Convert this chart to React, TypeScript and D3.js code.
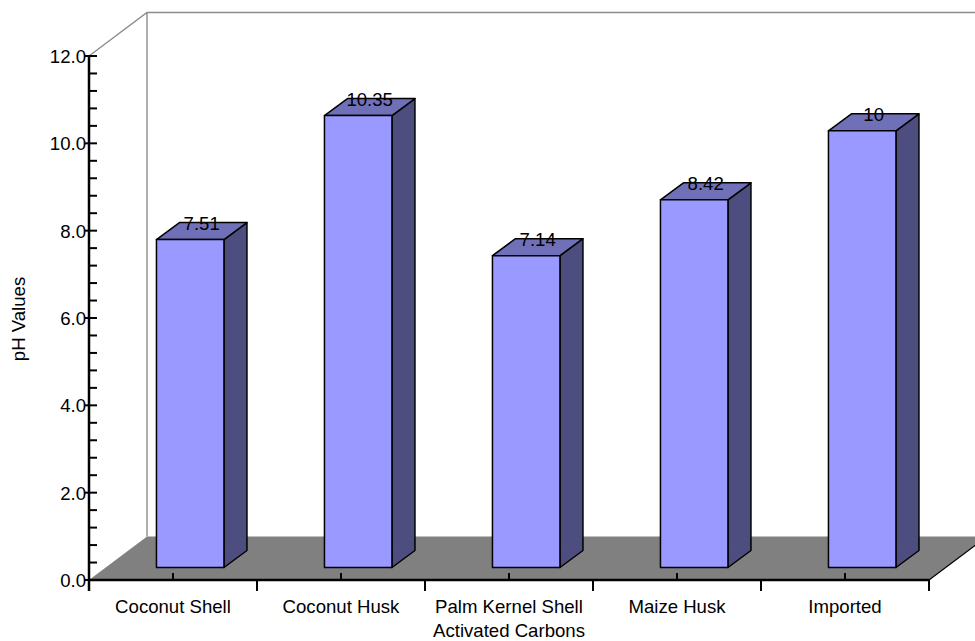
import * as d3 from "d3";
import { useEffect, useRef } from "react";

const categories = ["Coconut Shell", "Coconut Husk", "Palm Kernel Shell", "Maize Husk", "Imported"];
const phValues = [7.51, 10.35, 7.14, 8.42, 10];
const majorTicks = [0, 2, 4, 6, 8, 10, 12];
const minorTicks = [0.4, 0.8, 1.2, 1.6, 2.4, 2.8, 3.2, 3.6, 4.4, 4.8, 5.2, 5.6, 6.4, 6.8, 7.2, 7.6, 8.4, 8.8, 9.2, 9.6, 10.4, 10.8, 11.2, 11.6];

const W = 975;
const H = 641;
const FONT = "Liberation Sans, Arial, sans-serif";
const FS = 18.6;

export default function App() {
  const ref = useRef<SVGSVGElement | null>(null);

  useEffect(() => {
    const el = ref.current;
    if (!el) return;
    const svg = d3.select(el);
    svg.selectAll("*").remove();

    const x0 = 89;
    const x1 = 929;
    const yBase = 580;
    const yTop = 56;
    // oblique offset of the back wall, and of the bars inside it
    const depth = { dx: 58, dy: -43.5 };
    const barInset = { dx: 17.2, dy: -12.5 };
    const barDepth = { dx: 23, dy: -17 };
    const barW = 67.5;

    const x = d3.scaleBand<string>().domain(categories).range([x0, x1]);
    const y = d3.scaleLinear().domain([0, 12]).range([yBase, yTop]);

    const grey = "#8c8c8c";

    // back wall
    svg.append("path")
      .attr("d", `M${x0},${yTop}L${x0 + depth.dx},${yTop + depth.dy}L${W},${yTop + depth.dy}`)
      .attr("fill", "none")
      .attr("stroke", grey)
      .attr("stroke-width", 1.4);
    svg.append("line")
      .attr("x1", x0 + depth.dx)
      .attr("x2", x0 + depth.dx)
      .attr("y1", yTop + depth.dy)
      .attr("y2", yBase + depth.dy)
      .attr("stroke", grey)
      .attr("stroke-width", 1.4);

    // floor
    svg.append("path")
      .attr("d", `M${x0},${yBase}L${x0 + depth.dx},${yBase + depth.dy}L${x1 + depth.dx},${yBase + depth.dy}L${x1},${yBase}Z`)
      .attr("fill", "#808080");
    svg.append("line")
      .attr("x1", x1)
      .attr("x2", x1 + depth.dx)
      .attr("y1", yBase)
      .attr("y2", yBase + depth.dy)
      .attr("stroke", "#000")
      .attr("stroke-width", 1.2);

    // bars
    const bars = svg.append("g")
      .selectAll("g")
      .data(categories)
      .join("g")
      .attr("stroke", "#000")
      .attr("stroke-width", 1.5)
      .attr("stroke-linejoin", "round");

    const geom = (i: number) => {
      const cx = (x(categories[i]) as number) + x.bandwidth() / 2 + barInset.dx;
      const left = cx - barW / 2;
      const right = cx + barW / 2;
      const bottom = yBase + barInset.dy;
      const top = bottom - (yBase - y(phValues[i]));
      return { left, right, bottom, top };
    };

    bars.append("path")
      .attr("fill", "#4d4d80")
      .attr("d", (_, i) => {
        const g = geom(i);
        return `M${g.right},${g.top}L${g.right + barDepth.dx},${g.top + barDepth.dy}L${g.right + barDepth.dx},${g.bottom + barDepth.dy}L${g.right},${g.bottom}Z`;
      });
    bars.append("path")
      .attr("fill", "#7070b8")
      .attr("d", (_, i) => {
        const g = geom(i);
        return `M${g.left},${g.top}L${g.left + barDepth.dx},${g.top + barDepth.dy}L${g.right + barDepth.dx},${g.top + barDepth.dy}L${g.right},${g.top}Z`;
      });
    bars.append("rect")
      .attr("fill", "#9999ff")
      .attr("x", (_, i) => geom(i).left)
      .attr("y", (_, i) => geom(i).top)
      .attr("width", barW)
      .attr("height", (_, i) => geom(i).bottom - geom(i).top);

    // value labels
    svg.append("g")
      .selectAll("text")
      .data(phValues)
      .join("text")
      .attr("x", (_, i) => geom(i).left + barW / 2 + barDepth.dx / 2)
      .attr("y", (_, i) => geom(i).top - 10)
      .attr("text-anchor", "middle")
      .attr("font-family", FONT)
      .attr("font-size", FS)
      .attr("fill", "#000")
      .text((d) => String(d));

    // y axis
    const gy = svg.append("g");
    gy.append("line")
      .attr("x1", x0)
      .attr("x2", x0)
      .attr("y1", yTop - 1)
      .attr("y2", yBase + 11)
      .attr("stroke", "#000")
      .attr("stroke-width", 2.5);
    gy.selectAll("line.minor")
      .data(minorTicks)
      .join("line")
      .attr("class", "minor")
      .attr("x1", x0)
      .attr("x2", x0 + 8)
      .attr("y1", (d) => y(d))
      .attr("y2", (d) => y(d))
      .attr("stroke", "#000")
      .attr("stroke-width", 2);
    gy.selectAll("line.major")
      .data(majorTicks)
      .join("line")
      .attr("class", "major")
      .attr("x1", x0 - 4)
      .attr("x2", x0 + 8)
      .attr("y1", (d) => y(d))
      .attr("y2", (d) => y(d))
      .attr("stroke", "#000")
      .attr("stroke-width", 2);
    gy.selectAll("text")
      .data(majorTicks)
      .join("text")
      .attr("x", x0 - 3)
      .attr("y", (d) => y(d) + 7)
      .attr("text-anchor", "end")
      .attr("font-family", FONT)
      .attr("font-size", FS)
      .attr("fill", "#000")
      .text((d) => d3.format(".1f")(d));

    // x axis
    const gx = svg.append("g");
    gx.append("line")
      .attr("x1", x0)
      .attr("x2", x1)
      .attr("y1", yBase)
      .attr("y2", yBase)
      .attr("stroke", "#000")
      .attr("stroke-width", 2.5);
    const edges = [...categories.map((c) => x(c) as number), x1];
    gx.selectAll("line.edge")
      .data(edges)
      .join("line")
      .attr("class", "edge")
      .attr("x1", (d) => d)
      .attr("x2", (d) => d)
      .attr("y1", yBase)
      .attr("y2", yBase + 11)
      .attr("stroke", "#000")
      .attr("stroke-width", 2);
    gx.selectAll("line.mid")
      .data(categories)
      .join("line")
      .attr("class", "mid")
      .attr("x1", (d) => (x(d) as number) + x.bandwidth() / 2)
      .attr("x2", (d) => (x(d) as number) + x.bandwidth() / 2)
      .attr("y1", yBase - 7)
      .attr("y2", yBase)
      .attr("stroke", "#000")
      .attr("stroke-width", 2);
    gx.selectAll("text")
      .data(categories)
      .join("text")
      .attr("x", (d) => (x(d) as number) + x.bandwidth() / 2)
      .attr("y", 613)
      .attr("text-anchor", "middle")
      .attr("font-family", FONT)
      .attr("font-size", FS)
      .attr("fill", "#000")
      .text((d) => d);

    // axis titles
    svg.append("text")
      .attr("x", 509)
      .attr("y", 637)
      .attr("text-anchor", "middle")
      .attr("font-family", FONT)
      .attr("font-size", FS)
      .attr("fill", "#000")
      .text("Activated Carbons");
    svg.append("text")
      .attr("transform", "translate(25,319) rotate(-90)")
      .attr("text-anchor", "middle")
      .attr("font-family", FONT)
      .attr("font-size", FS)
      .attr("fill", "#000")
      .text("pH Values");
  }, []);

  return (
    <svg
      ref={ref}
      width={W}
      height={H}
      viewBox={`0 0 ${W} ${H}`}
      style={{ position: "absolute", left: 0, top: 0, display: "block" }}
    />
  );
}
